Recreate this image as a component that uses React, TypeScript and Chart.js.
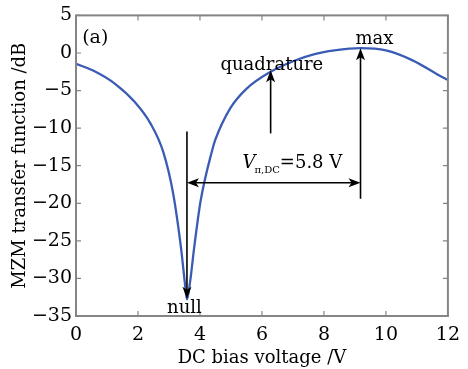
import { useEffect, useRef } from 'react';
import { Chart, registerables } from 'chart.js';

Chart.register(...registerables);

// DC bias voltage (V) and MZM transfer function (dB)
const biasVoltage = [0, 0.63, 1.26, 1.89, 2.42, 2.81, 3.13, 3.39, 3.51, 3.58, 3.68, 3.81, 4.02, 4.39, 4.49, 4.97, 5.49, 6.28, 7.07, 7.7, 8.34, 9.18, 10.0, 10.86, 11.81, 12];
const transferDb = [-1.43, -2.5, -4.1, -6.5, -9.5, -13.1, -18.6, -26.0, -30.5, -32.8, -30.5, -26.0, -19.7, -13.0, -11.6, -7.4, -4.8, -2.5, -1.0, -0.15, 0.34, 0.64, 0.34, -0.98, -3.2, -3.6];

const xTickValues = [0, 2, 4, 6, 8, 10, 12];
const yTickValues = [5, 0, -5, -10, -15, -20, -25, -30, -35];

// annotation anchors (data coordinates)
const nullV = 3.58;
const maxV = 9.18;
const quadV = 6.28;
const vpiLabel = 'V';
const vpiSub = 'π,DC';
const vpiValue = '=5.8 V';

const FONT = '"DejaVu Serif", serif';

const fmt = (v: number) => (v < 0 ? '\u2212' + Math.abs(v) : String(v));

function arrowHead(ctx: CanvasRenderingContext2D, x: number, y: number, dx: number, dy: number) {
  const len = 12;
  const w = 4.5;
  const bx = x - dx * len;
  const by = y - dy * len;
  const nx = -dy;
  const ny = dx;
  ctx.beginPath();
  ctx.moveTo(x, y);
  ctx.lineTo(bx + nx * w, by + ny * w);
  ctx.lineTo(x - dx * (len - 3), y - dy * (len - 3));
  ctx.lineTo(bx - nx * w, by - ny * w);
  ctx.closePath();
  ctx.fill();
}

const overlay = {
  id: 'overlay',
  afterDraw(chart: any) {
    const { ctx, chartArea: a, scales } = chart;
    const xs = scales.x;
    const ys = scales.y;
    const X = (v: number) => xs.getPixelForValue(v);
    const Y = (v: number) => ys.getPixelForValue(v);
    ctx.save();
    // frame
    ctx.strokeStyle = '#858585';
    ctx.lineWidth = 2;
    ctx.strokeRect(a.left, a.top, a.right - a.left, a.bottom - a.top);
    ctx.lineWidth = 1.2;
    ctx.beginPath();
    for (const v of xTickValues) {
      const p = X(v);
      ctx.moveTo(p, a.bottom);
      ctx.lineTo(p, a.bottom - 5);
      ctx.moveTo(p, a.top);
      ctx.lineTo(p, a.top + 5);
    }
    for (const v of yTickValues) {
      const p = Y(v);
      ctx.moveTo(a.left, p);
      ctx.lineTo(a.left + 5, p);
      ctx.moveTo(a.right, p);
      ctx.lineTo(a.right - 5, p);
    }
    ctx.stroke();

    // arrows
    ctx.strokeStyle = '#000';
    ctx.fillStyle = '#000';
    ctx.lineWidth = 1.6;
    // null arrow
    const nx = X(nullV);
    ctx.beginPath();
    ctx.moveTo(nx, Y(-10.45));
    ctx.lineTo(nx, Y(-32.7) - 6);
    ctx.stroke();
    arrowHead(ctx, nx, Y(-32.7), 0, 1);
    // max arrow
    const mx = X(maxV);
    ctx.beginPath();
    ctx.moveTo(mx, Y(-19.4));
    ctx.lineTo(mx, Y(0.64) + 6);
    ctx.stroke();
    arrowHead(ctx, mx, Y(0.64), 0, -1);
    // quadrature arrow
    const qx = X(quadV);
    ctx.beginPath();
    ctx.moveTo(qx, Y(-10.7));
    ctx.lineTo(qx, Y(-2.3) + 6);
    ctx.stroke();
    arrowHead(ctx, qx, Y(-2.3), 0, -1);
    // V_pi double arrow
    const hy = Y(-17.27);
    ctx.beginPath();
    ctx.moveTo(nx + 6, hy);
    ctx.lineTo(mx - 6, hy);
    ctx.stroke();
    arrowHead(ctx, nx, hy, -1, 0);
    arrowHead(ctx, mx, hy, 1, 0);

    // texts
    ctx.fillStyle = '#000';
    ctx.textBaseline = 'alphabetic';
    ctx.font = '19px ' + FONT;
    ctx.textAlign = 'left';
    ctx.fillText('(a)', X(0.2), Y(1.3));
    ctx.font = '18px ' + FONT;
    ctx.textAlign = 'center';
    ctx.fillText('quadrature', X(6.32), Y(-2.3));
    ctx.fillText('max', X(9.63), Y(1.13));
    ctx.fillText('null', X(3.5), Y(-34.6));
    // V_pi,DC label
    ctx.textAlign = 'left';
    let tx = X(5.37);
    const by = Y(-15.33);
    ctx.font = 'italic 18px ' + FONT;
    ctx.fillText(vpiLabel, tx, by);
    tx += ctx.measureText(vpiLabel).width - 1;
    ctx.font = '10px ' + FONT;
    ctx.fillText(vpiSub, tx, by + 5);
    tx += ctx.measureText(vpiSub).width;
    ctx.font = '18px ' + FONT;
    ctx.fillText(vpiValue, tx, by);
    ctx.restore();
  },
};

export default function App() {
  const ref = useRef<HTMLCanvasElement | null>(null);
  useEffect(() => {
    document.body.style.margin = '0';
    const canvas = ref.current;
    if (!canvas) return;
    const chart = new Chart(canvas, {
      type: 'line',
      data: {
        datasets: [
          {
            data: biasVoltage.map((v, i) => ({ x: v, y: transferDb[i] })),
            borderColor: '#3b5cb5',
            borderWidth: 2.3,
            pointRadius: 0,
            fill: false,
            cubicInterpolationMode: 'monotone',
          },
        ],
      },
      options: {
        responsive: false,
        animation: false,
        events: [],
        layout: { padding: { top: 13, right: 12, left: 0, bottom: 0 } },
        plugins: { legend: { display: false }, tooltip: { enabled: false } },
        scales: {
          x: {
            type: 'linear',
            min: 0,
            max: 12,
            grid: { display: false, drawTicks: false },
            border: { display: false },
            ticks: {
              stepSize: 2,
              padding: 8,
              color: '#000',
              font: { family: FONT, size: 19 },
              callback: (v: any) => fmt(Number(v)),
            },
            title: {
              display: true,
              text: 'DC bias voltage /V',
              color: '#000',
              font: { family: FONT, size: 18 },
              padding: { top: 0, bottom: 0 },
            },
            afterFit: (s: any) => {
              s.height = 53;
            },
          },
          y: {
            type: 'linear',
            min: -35,
            max: 5,
            grid: { display: false, drawTicks: false },
            border: { display: false },
            ticks: {
              stepSize: 5,
              padding: 4,
              color: '#000',
              font: { family: FONT, size: 19 },
              callback: (v: any) => fmt(Number(v)),
            },
            title: {
              display: true,
              text: 'MZM transfer function /dB',
              color: '#000',
              font: { family: FONT, size: 18 },
              padding: { top: 10, bottom: 0 },
            },
            afterFit: (s: any) => {
              s.width = 76;
            },
          },
        },
      },
      plugins: [overlay],
    } as any);
    return () => chart.destroy();
  }, []);
  return <canvas ref={ref} width={468} height={369} style={{ display: 'block' }} />;
}
